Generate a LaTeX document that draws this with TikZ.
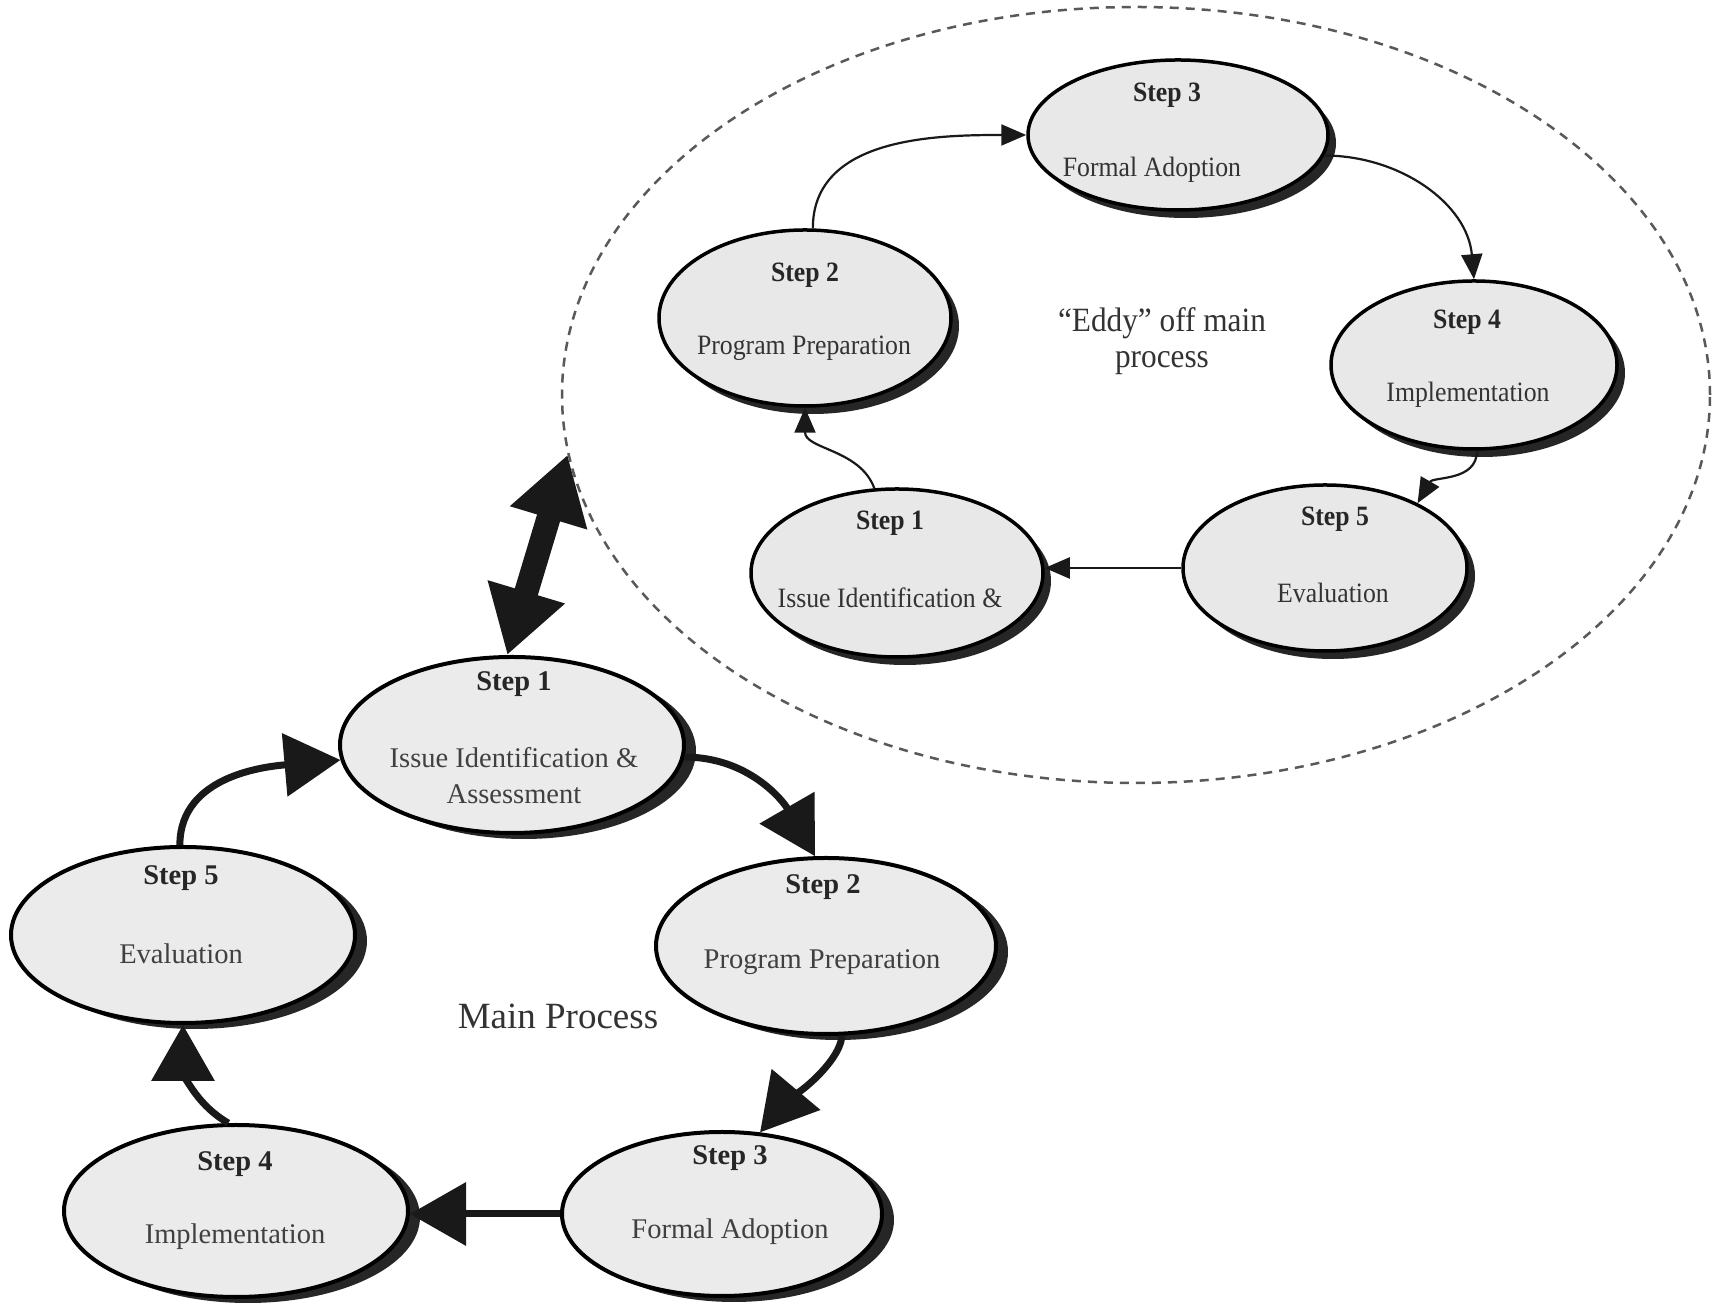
\documentclass[tikz,border=0pt]{standalone}
\usepackage{fontspec}
\setmainfont{Liberation Serif}
\newfontfamily\eddyfont[FakeStretch=0.92,Ligatures=TeX]{Liberation Serif}
\usetikzlibrary{shapes.geometric,arrows.meta,shadows}
\begin{document}
\begin{tikzpicture}[x=1pt,y=1pt,
  mainell/.style={ellipse, draw=black, line width=4pt, fill=black!8, inner sep=0pt,
    drop shadow={shadow xshift=12pt, shadow yshift=-6pt, fill=black!85, opacity=1}},
  eddyell/.style={ellipse, draw=black, line width=3.5pt, fill=black!9, inner sep=0pt,
    drop shadow={shadow xshift=8pt, shadow yshift=-8pt, fill=black!85, opacity=1}},
  mstep/.style={font=\fontsize{28.5}{34}\selectfont\bfseries, text=black!85, inner sep=0pt},
  mtxt/.style={font=\fontsize{28.5}{36}\selectfont, text=black!75, align=center, inner sep=0pt},
  estep/.style={font=\eddyfont\fontsize{28}{34}\selectfont\bfseries, text=black!85, inner sep=0pt},
  etxt/.style={font=\eddyfont\fontsize{28}{34}\selectfont, text=black!80, inner sep=0pt},
  elabel/.style={font=\eddyfont\fontsize{34}{36}\selectfont, text=black!80, align=center, inner sep=0pt},
  marrow/.style={line width=7pt, draw=black!90, -{Triangle[width=62pt,length=56pt]}},
  earrow/.style={line width=2.2pt, draw=black!90, -{Triangle[width=21pt,length=25pt]}},
  dblarrow/.style={line width=24pt, draw=black!90, {Triangle[width=76pt,length=66pt]}-{Triangle[width=76pt,length=66pt]}},
  dashell/.style={ellipse, draw=black!65, line width=2.5pt, dash pattern=on 9pt off 7pt, inner sep=0pt}
]
\fill[white] (0,0) rectangle (1717,1311);
\useasboundingbox (0,0) rectangle (1717,1311);

% eddy boundary
\node[dashell, minimum width=1148pt, minimum height=776pt] (eddy) at (1136,916) {};

% main process ellipses
\node[mainell, minimum width=344pt, minimum height=176pt] (m1) at (512,566) {};
\node[mainell, minimum width=340pt, minimum height=176pt] (m2) at (826,365) {};
\node[mainell, minimum width=344pt, minimum height=176pt] (m5) at (183,376) {};
\node[mainell, minimum width=320pt, minimum height=164pt] (m3) at (722,97) {};
\node[mainell, minimum width=344pt, minimum height=172pt] (m4) at (236,100) {};

\node[mstep] (m1s) at (514,627) {Step 1};
\node[mtxt] (m1t) at (514,535) {Issue Identification \&\\Assessment};
\node[mstep] (m2s) at (823,424) {Step 2};
\node[mtxt] (m2t) at (822,349) {Program Preparation};
\node[mstep] (m5s) at (181,433) {Step 5};
\node[mtxt] (m5t) at (181,357) {Evaluation};
\node[mstep] (m3s) at (730,153) {Step 3};
\node[mtxt] (m3t) at (730,79) {Formal Adoption};
\node[mstep] (m4s) at (235,147) {Step 4};
\node[mtxt] (m4t) at (235,74) {Implementation};
\node[font=\fontsize{37}{40}\selectfont, text=black!80] (mp) at (558,295) {Main Process};

% eddy ellipses
\node[eddyell, minimum width=300pt, minimum height=150pt] (e3) at (1178,1176) {};
\node[eddyell, minimum width=292pt, minimum height=176pt] (e2) at (805,993) {};
\node[eddyell, minimum width=286pt, minimum height=168pt] (e4) at (1474,946) {};
\node[eddyell, minimum width=292pt, minimum height=168pt] (e1) at (897,738) {};
\node[eddyell, minimum width=284pt, minimum height=166pt] (e5) at (1325,743) {};

\node[estep] (e3s) at (1167,1216) {Step 3};
\node[etxt] (e3t) at (1152,1141) {Formal Adoption};
\node[estep] (e2s) at (805,1036) {Step 2};
\node[etxt] (e2t) at (804,963) {Program Preparation};
\node[estep] (e4s) at (1467,989) {Step 4};
\node[etxt] (e4t) at (1468,916) {Implementation};
\node[estep] (e1s) at (890,788) {Step 1};
\node[etxt] (e1t) at (890,713) {Issue Identification \&};
\node[estep] (e5s) at (1335,792) {Step 5};
\node[etxt] (e5t) at (1333,718) {Evaluation};
\node[elabel] (el) at (1162,970) {“Eddy” off main\\process};

% main arrows
\draw[marrow] (m5.92) to[out=90,in=185] (m1.185);
\draw[marrow] (m1.-4) to[out=0,in=120] (m2.97);
\draw[marrow] (m2.-80) to[out=-92,in=50,looseness=0.6] (m3.65);
\draw[marrow] (m3.west) -- (m3.west -| m4.east);
\draw[marrow] (m4.95) to[out=150,in=-90] (m5.south);

% double arrow
\draw[dblarrow] (eddy.186) -- (m1.93);

% eddy arrows
\draw[earrow] (e2.85) to[out=90,in=180] (e3.west);
\draw[earrow] (e3.-8) to[out=0,in=95] (e4.north);
\draw[earrow] (e4.-88) to[out=-90,in=60] (e5.35);
\draw[earrow] (e5.west) -- (e5.west -| e1.east);
\draw[earrow] (e1.105) to[out=110,in=-90] (e2.south);
\end{tikzpicture}
\end{document}
